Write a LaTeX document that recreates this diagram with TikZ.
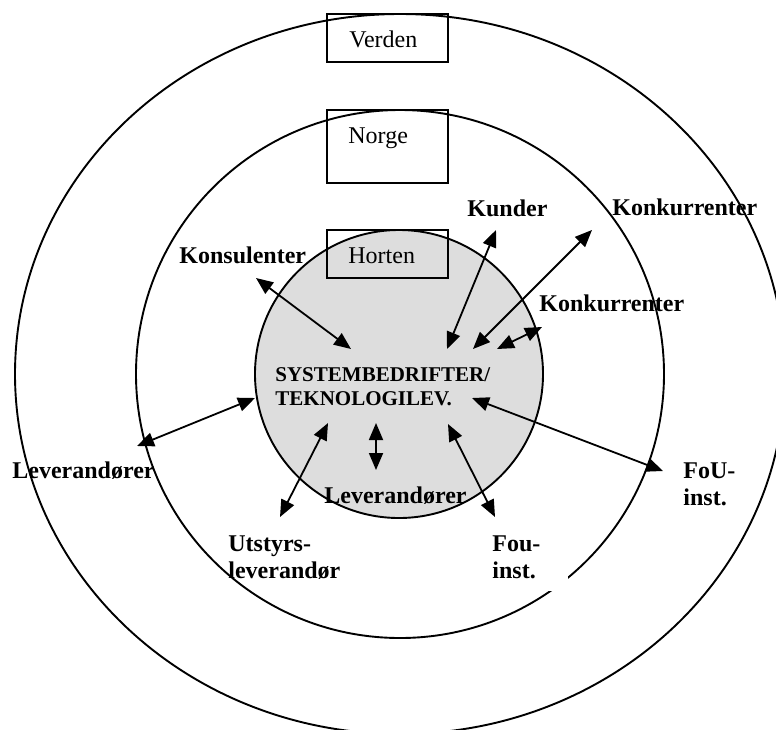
\documentclass[tikz,border=0pt]{standalone}
\usepackage{fontspec}
\setmainfont{Liberation Serif}
\usetikzlibrary{arrows.meta}
\definecolor{corefill}{RGB}{221,221,221}
\begin{document}
\begin{tikzpicture}[x=0.5pt,y=-0.5pt,
  ring/.style={draw=black,line width=0.95pt},
  levelbox/.style={draw=black,line width=0.95pt,inner sep=0pt},
  lbl/.style={anchor=base west,align=left,inner sep=0pt,
    font=\fontsize{12}{13.5}\selectfont\bfseries},
  tag/.style={anchor=base west,inner sep=0pt,font=\fontsize{12}{13.5}\selectfont},
  core/.style={anchor=base west,align=left,inner sep=0pt,
    font=\fontsize{10.5}{12}\selectfont\bfseries},
  link/.style={line width=0.9pt,
    {Triangle[length=8.5pt,width=7pt]}-{Triangle[length=8.5pt,width=7pt]}}]

\useasboundingbox (0,0) rectangle (776,729);
\fill[white] (0,0) rectangle (776,729);

% the three levels: world, country, town
\draw[ring] (400,374) ellipse [x radius=192.5pt, y radius=180pt];
\draw[ring] (400,374) circle [radius=132pt];
\filldraw[ring,fill=corefill] (399,374) circle [radius=72pt];

% level boxes
\node[levelbox,minimum width=60.5pt,minimum height=24pt] (verdenbox) at (387.5,38) {};
\node[levelbox,minimum width=60.5pt,minimum height=36.5pt] (norgebox) at (387.5,146.5) {};
\node[levelbox,minimum width=60.5pt,minimum height=24pt] (hortenbox) at (387.5,254) {};
\node[tag] (verden) at (349,47) {Verden};
\node[tag] (norge) at (348,143) {Norge};
\node[tag] (horten) at (348,263) {Horten};

% blank backing behind the lower research label
\fill[white] (480,528) rectangle (568,591);

% arrow end points
\coordinate (konsA) at (256,278);  \coordinate (konsB) at (351,349);
\coordinate (kundA) at (496,230);  \coordinate (kundB) at (447,349);
\coordinate (konkA) at (592,230);  \coordinate (konkB) at (473,349);
\coordinate (konlA) at (542,327);  \coordinate (konlB) at (497,349);
\coordinate (levlA) at (137,446);  \coordinate (levlB) at (255,398);
\coordinate (utstA) at (280,517);  \coordinate (utstB) at (328,423);
\coordinate (levbA) at (376,423);  \coordinate (levbB) at (376,470);
\coordinate (fouA)  at (495,517);  \coordinate (fouB)  at (448,424);
\coordinate (foUA)  at (663,471);  \coordinate (foUB)  at (472,398);

\draw[link] (konsA) -- (konsB);
\draw[link] (kundA) -- (kundB);
\draw[link] (konkA) -- (konkB);
\draw[link] (konlA) -- (konlB);
\draw[link] (levlA) -- (levlB);
\draw[link] (utstA) -- (utstB);
\draw[link] (levbA) -- (levbB);
\draw[link] (fouA) -- (fouB);
\draw[link] (foUA) -- (foUB);

% actors (multi-line nodes are placed by the baseline of their last line)
\node[core] (system) at (275,405) {SYSTEMBEDRIFTER/\\TEKNOLOGILEV.};
\node[lbl] (konsulenter) at (179,263) {Konsulenter};
\node[lbl] (kunder) at (467,216) {Kunder};
\node[lbl] (konkurrenterV) at (612,215) {Konkurrenter};
\node[lbl] (konkurrenterH) at (539,311) {Konkurrenter};
\node[lbl] (leverandorerN) at (12,478) {Leverandører};
\node[lbl] (leverandorerH) at (324,503) {Leverandører};
\node[lbl] (utstyr) at (228,578) {Utstyrs-\\leverandør};
\node[lbl] (fouH) at (492,578) {Fou-\\inst.};
\node[lbl] (fouN) at (683,505) {FoU-\\inst.};
\end{tikzpicture}
\end{document}
